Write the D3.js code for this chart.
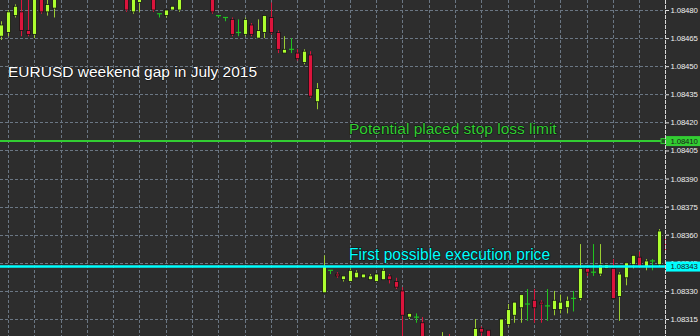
<!DOCTYPE html>
<html>
<head>
<meta charset="utf-8">
<script src="https://cdn.jsdelivr.net/npm/d3@7"></script>
<style>
    body { margin: 0; background: #2d2d2d; }
    svg { display: block; }
</style>
</head>
<body>
<div id="chart"></div>
<script>

// EURUSD M1 bars, friday close -> sunday open (bars above/below the window are clipped)
var opens = [
    1.08466, 1.08468, 1.08477, 1.08479, 1.08469, 1.08467, 1.08490, 1.08479, 1.08481, 1.08490,
    1.08496, 1.08500, 1.08497, 1.08502, 1.08507, 1.08503, 1.08499, 1.08495, 1.08497, 1.08492,
    1.08479, 1.08484, 1.08492, 1.08490, 1.08478, 1.08477, 1.08480, 1.08480, 1.08490, 1.08494,
    1.08492, 1.08496, 1.08491, 1.08477, 1.08476, 1.08475, 1.08468, 1.08467, 1.08472, 1.08465,
    1.08468, 1.08476, 1.08468, 1.08457, 1.08459, 1.08457, 1.08452, 1.08456, 1.08431, 1.08329,
    1.08341, 1.08339, 1.08336, 1.08335, 1.08337, 1.08337, 1.08336, 1.08335, 1.08336, 1.08338,
    1.08335, 1.08330, 1.08316, 1.08316, 1.08313, 1.08300, 1.08294, 1.08296, 1.08303, 1.08299,
    1.08296, 1.08300, 1.08298, 1.08310, 1.08309, 1.08300, 1.08302, 1.08312, 1.08317, 1.08321,
    1.08323, 1.08325, 1.08324, 1.08322, 1.08320, 1.08320, 1.08321, 1.08326, 1.08326, 1.08342,
    1.08340, 1.08339, 1.08342, 1.08342, 1.08327, 1.08337, 1.08344, 1.08348, 1.08343, 1.08346,
    1.08344, 1.08359
];
var highs = [
    1.08474, 1.08480, 1.08483, 1.08488, 1.08487, 1.08492, 1.08494, 1.08488, 1.08492, 1.08498,
    1.08503, 1.08506, 1.08504, 1.08510, 1.08512, 1.08508, 1.08505, 1.08500, 1.08502, 1.08496,
    1.08491, 1.08495, 1.08497, 1.08494, 1.08478, 1.08480, 1.08482, 1.08492, 1.08497, 1.08500,
    1.08498, 1.08499, 1.08495, 1.08477, 1.08476, 1.08476, 1.08475, 1.08476, 1.08473, 1.08475,
    1.08477, 1.08484, 1.08469, 1.08466, 1.08465, 1.08459, 1.08459, 1.08458, 1.08441, 1.08349,
    1.08341, 1.08340, 1.08338, 1.08342, 1.08341, 1.08339, 1.08339, 1.08339, 1.08342, 1.08339,
    1.08337, 1.08332, 1.08318, 1.08318, 1.08316, 1.08304, 1.08300, 1.08308, 1.08307, 1.08304,
    1.08302, 1.08305, 1.08315, 1.08311, 1.08309, 1.08305, 1.08315, 1.08323, 1.08324, 1.08328,
    1.08331, 1.08331, 1.08325, 1.08331, 1.08330, 1.08328, 1.08327, 1.08330, 1.08355, 1.08342,
    1.08355, 1.08355, 1.08344, 1.08347, 1.08340, 1.08345, 1.08349, 1.08351, 1.08347, 1.08347,
    1.08363, 1.08361
];
var lows = [
    1.08464, 1.08466, 1.08476, 1.08466, 1.08466, 1.08465, 1.08478, 1.08477, 1.08476, 1.08488,
    1.08492, 1.08494, 1.08493, 1.08499, 1.08500, 1.08496, 1.08493, 1.08490, 1.08489, 1.08479,
    1.08478, 1.08479, 1.08487, 1.08479, 1.08476, 1.08476, 1.08480, 1.08479, 1.08487, 1.08490,
    1.08488, 1.08489, 1.08478, 1.08476, 1.08474, 1.08466, 1.08466, 1.08466, 1.08466, 1.08465,
    1.08465, 1.08467, 1.08457, 1.08457, 1.08457, 1.08453, 1.08451, 1.08433, 1.08427, 1.08329,
    1.08339, 1.08337, 1.08335, 1.08335, 1.08337, 1.08337, 1.08336, 1.08335, 1.08336, 1.08334,
    1.08331, 1.08303, 1.08315, 1.08313, 1.08295, 1.08290, 1.08288, 1.08292, 1.08296, 1.08292,
    1.08290, 1.08294, 1.08296, 1.08306, 1.08298, 1.08296, 1.08300, 1.08311, 1.08313, 1.08313,
    1.08314, 1.08313, 1.08313, 1.08314, 1.08317, 1.08318, 1.08318, 1.08319, 1.08325, 1.08338,
    1.08338, 1.08338, 1.08342, 1.08326, 1.08314, 1.08333, 1.08342, 1.08343, 1.08341, 1.08341,
    1.08343, 1.08350
];
var closes = [
    1.08472, 1.08479, 1.08482, 1.08469, 1.08467, 1.08489, 1.08479, 1.08483, 1.08490, 1.08496,
    1.08500, 1.08497, 1.08502, 1.08507, 1.08503, 1.08499, 1.08495, 1.08497, 1.08492, 1.08480,
    1.08489, 1.08492, 1.08490, 1.08480, 1.08478, 1.08480, 1.08482, 1.08490, 1.08494, 1.08492,
    1.08496, 1.08491, 1.08479, 1.08477, 1.08476, 1.08467, 1.08468, 1.08475, 1.08467, 1.08469,
    1.08477, 1.08468, 1.08459, 1.08459, 1.08459, 1.08454, 1.08458, 1.08434, 1.08438, 1.08343,
    1.08341, 1.08338, 1.08338, 1.08341, 1.08340, 1.08339, 1.08338, 1.08339, 1.08341, 1.08336,
    1.08332, 1.08317, 1.08318, 1.08316, 1.08300, 1.08294, 1.08297, 1.08303, 1.08299, 1.08296,
    1.08300, 1.08302, 1.08310, 1.08308, 1.08300, 1.08302, 1.08315, 1.08320, 1.08324, 1.08328,
    1.08323, 1.08321, 1.08323, 1.08322, 1.08325, 1.08324, 1.08325, 1.08326, 1.08342, 1.08340,
    1.08340, 1.08344, 1.08344, 1.08326, 1.08339, 1.08345, 1.08349, 1.08343, 1.08346, 1.08346,
    1.08362, 1.08351
];

var priceTicks = [1.08315, 1.08330, 1.08345, 1.08360, 1.08375, 1.08390, 1.08405,
    1.08420, 1.08435, 1.08450, 1.08465, 1.08480];

var stopLevel = 1.08410;
var execLevel = 1.08343;

var titleText = "EURUSD weekend gap in July 2015";
var stopText = "Potential placed stop loss limit";
var execText = "First possible execution price";

var W = 700, H = 336;
var plotRight = 666;

var bg = "#2d2d2d";
var gridColor = "#6b7784";
var bullFill = "#adff2f";
var bullWick = "#9acd32";
var bearFill = "#dc143c";
var dojiColor = "#1fc21f";
var stopColor = "#32cd32";
var execColor = "#00ffff";
var axisFont = "'Liberation Sans', Arial, sans-serif";

var svg = d3.select("#chart")
    .append("svg")
    .attr("width", W)
    .attr("height", H)
    .style("font-family", "'Liberation Sans', Arial, sans-serif");

svg.append("rect")
    .attr("width", W)
    .attr("height", H)
    .attr("fill", bg);

// price -> pixel, 15 points every ~28px
var y = d3.scaleLinear()
    .domain([1.08315, 1.08480])
    .range([319, 10]);

// bar index -> pixel
var x = d3.scaleLinear()
    .domain([0, opens.length - 1])
    .range([1.4, 665.5]);

svg.append("clipPath")
    .attr("id", "plotclip")
    .append("rect")
    .attr("width", plotRight)
    .attr("height", H);

// grid
var grid = svg.append("g").attr("class", "grid");

grid.selectAll("line.h")
    .data(priceTicks)
    .enter()
    .append("line")
    .attr("class", "h")
    .attr("x1", 0)
    .attr("x2", plotRight)
    .attr("y1", function (d) { return Math.round(y(d)) + 0.5; })
    .attr("y2", function (d) { return Math.round(y(d)) + 0.5; })
    .attr("stroke", gridColor)
    .attr("stroke-width", 1)
    .attr("stroke-dasharray", "3,2");

// vertical grid every 4 bars starting from bar 1
var gridBars = d3.range(1, opens.length - 1, 4);
grid.selectAll("line.v")
    .data(gridBars)
    .enter()
    .append("line")
    .attr("class", "v")
    .attr("x1", function (d) { return Math.round(x(d)) + 0.5; })
    .attr("x2", function (d) { return Math.round(x(d)) + 0.5; })
    .attr("y1", 0)
    .attr("y2", H)
    .attr("stroke", gridColor)
    .attr("stroke-width", 1)
    .attr("stroke-dasharray", "3,2");

// candles
var bars = d3.range(opens.length).map(function (i) {
    return { i: i, o: opens[i], h: highs[i], l: lows[i], c: closes[i] };
});

var candles = svg.append("g")
    .attr("clip-path", "url(#plotclip)")
    .selectAll("g.candle")
    .data(bars)
    .enter()
    .append("g")
    .attr("class", "candle");

var colorOf = function (d) {
    if (d.o === d.c) { return dojiColor; }
    return d.c > d.o ? bullWick : bearFill;
};

candles.append("line")
    .attr("x1", function (d) { return Math.round(x(d.i)) + 0.5; })
    .attr("x2", function (d) { return Math.round(x(d.i)) + 0.5; })
    .attr("y1", function (d) { return y(d.h); })
    .attr("y2", function (d) { return y(d.l); })
    .attr("stroke", colorOf)
    .attr("stroke-width", 1);

// doji -> just a horizontal tick
candles.filter(function (d) { return d.o === d.c; })
    .append("line")
    .attr("x1", function (d) { return Math.round(x(d.i)) - 2; })
    .attr("x2", function (d) { return Math.round(x(d.i)) + 3; })
    .attr("y1", function (d) { return y(d.o); })
    .attr("y2", function (d) { return y(d.o); })
    .attr("stroke", dojiColor)
    .attr("stroke-width", 1.2);

candles.filter(function (d) { return d.o !== d.c; })
    .append("rect")
    .attr("x", function (d) { return Math.round(x(d.i)) - 1.5; })
    .attr("width", 4)
    .attr("y", function (d) { return y(Math.max(d.o, d.c)); })
    .attr("height", function (d) { return Math.max(1.5, Math.abs(y(d.o) - y(d.c))); })
    .attr("fill", function (d) { return d.c > d.o ? bullFill : bearFill; })
    .attr("stroke", "#141414")
    .attr("stroke-width", 0.8);

// horizontal level lines
svg.append("line")
    .attr("x1", 0)
    .attr("x2", plotRight)
    .attr("y1", y(stopLevel))
    .attr("y2", y(stopLevel))
    .attr("stroke", stopColor)
    .attr("stroke-width", 2);

svg.append("rect")
    .attr("x", 661)
    .attr("y", y(stopLevel) - 2.5)
    .attr("width", 4.5)
    .attr("height", 5)
    .attr("fill", "#1d5e1d")
    .attr("stroke", stopColor)
    .attr("stroke-width", 1);

svg.append("line")
    .attr("x1", 0)
    .attr("x2", plotRight)
    .attr("y1", y(execLevel))
    .attr("y2", y(execLevel))
    .attr("stroke", execColor)
    .attr("stroke-width", 2.6);

// annotations
var addNote = function (txt, px, py, size, color) {
    svg.append("text")
        .attr("x", px)
        .attr("y", py)
        .attr("font-size", size + "px")
        .attr("fill", color)
        .attr("stroke", "#111")
        .attr("stroke-width", 1.2)
        .attr("paint-order", "stroke")
        .text(txt);
};

addNote(titleText, 8, 77, 15.5, "#ffffff");
addNote(stopText, 349, 134, 15.5, stopColor);
addNote(execText, 349, 260, 15.6, execColor);

// right price axis
var yaxis = svg.append("g")
    .attr("class", "y axis")
    .attr("transform", "translate(" + plotRight + ",0)")
    .call(d3.axisRight(y)
        .tickValues(priceTicks)
        .tickFormat(d3.format(".5f"))
        .tickSize(3)
        .tickPadding(1.5));

yaxis.select("path").remove();
yaxis.selectAll("line").attr("stroke", "#e0e0e0");
yaxis.selectAll("text")
    .attr("fill", "#f0f0f0")
    .attr("font-size", "7.8px")
    .attr("letter-spacing", "-0.15px")
    .attr("font-family", axisFont);

svg.append("line")
    .attr("x1", plotRight - 0.5)
    .attr("x2", plotRight - 0.5)
    .attr("y1", 0)
    .attr("y2", H)
    .attr("stroke", "#d8d8d8")
    .attr("stroke-width", 1)
    .attr("stroke-dasharray", "4,1");

// price tags on the axis
var priceTag = function (level, fill) {
    var ty = y(level);
    svg.append("rect")
        .attr("x", plotRight)
        .attr("y", ty - 5)
        .attr("width", W - plotRight)
        .attr("height", 10)
        .attr("fill", fill);
    svg.append("text")
        .attr("x", plotRight + 4.5)
        .attr("y", ty)
        .attr("dy", "0.34em")
        .attr("font-size", "7.8px")
        .attr("letter-spacing", "-0.15px")
        .attr("font-family", axisFont)
        .attr("fill", "#1a1a1a")
        .text(d3.format(".5f")(level));
};

priceTag(stopLevel, stopColor);
priceTag(execLevel, execColor);

</script>
</body>
</html>
